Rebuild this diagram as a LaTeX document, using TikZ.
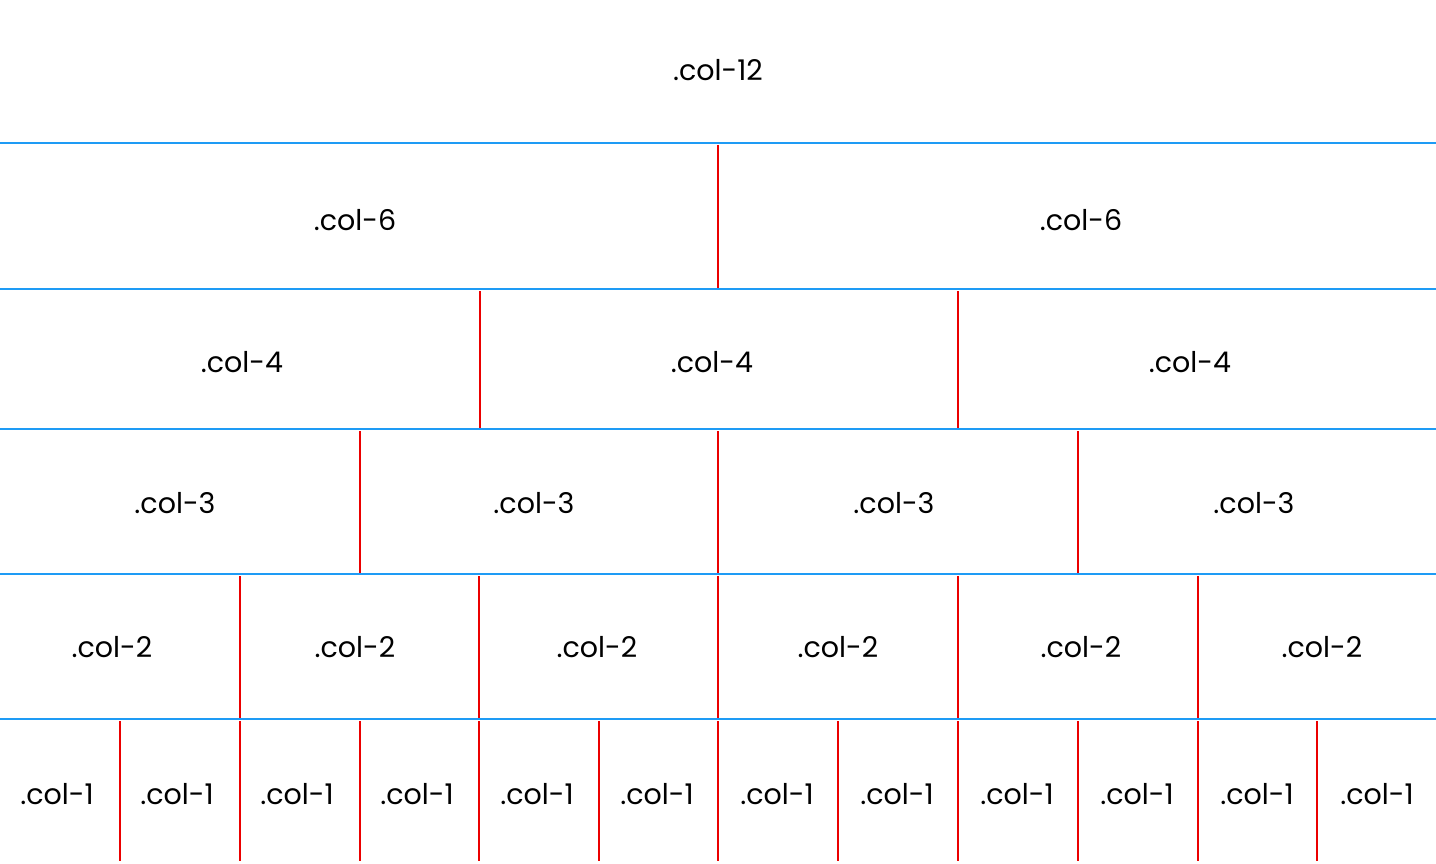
\documentclass[tikz,border=0pt]{standalone}
\usepackage{fontspec}
\setmainfont{Poppins}
\definecolor{rowblue}{RGB}{30,155,245}
\definecolor{colred}{RGB}{235,0,0}
\tikzset{
	lbl/.style={inner sep=0pt, font=\fontsize{28.5}{33}\selectfont},
	rowline/.style={draw=rowblue, line width=2pt},
	colline/.style={draw=colred, line width=2pt}
}
\begin{document}
\begin{tikzpicture}[x=1pt,y=-1pt]
	\useasboundingbox (0,0) rectangle (1436,864);
	% row separators
	\foreach \y in {143,289,429,574,719}
		\draw[rowline] (0,\y) -- (1436,\y);
	% column separators
	\foreach \x in {718}
		\draw[colline] (\x,145) -- (\x,288);
	\foreach \x in {480,958}
		\draw[colline] (\x,291) -- (\x,428);
	\foreach \x in {360,718,1078}
		\draw[colline] (\x,431) -- (\x,573);
	\foreach \x in {240,479,718,958,1198}
		\draw[colline] (\x,576) -- (\x,718);
	\foreach \x in {120,240,360,479,599,718,838,958,1078,1198,1317}
		\draw[colline] (\x,721) -- (\x,861);
	% labels
	\node[lbl] at (718,70) (c12) {.col-12};
	\foreach \x [count=\i] in {355,1081}
		\node[lbl] at (\x,220) (c6-\i) {.col-6};
	\foreach \x [count=\i] in {242,712,1190}
		\node[lbl] at (\x,362) (c4-\i) {.col-4};
	\foreach \x [count=\i] in {175,534,894,1254}
		\node[lbl] at (\x,503) (c3-\i) {.col-3};
	\foreach \x [count=\i] in {112,355,597,838,1081,1322}
		\node[lbl] at (\x,647) (c2-\i) {.col-2};
	\foreach \x [count=\i] in {57,177,297,417,537,657,777,897,1017,1137,1257,1377}
		\node[lbl] at (\x,794) (c1-\i) {.col-1};
\end{tikzpicture}
\end{document}
